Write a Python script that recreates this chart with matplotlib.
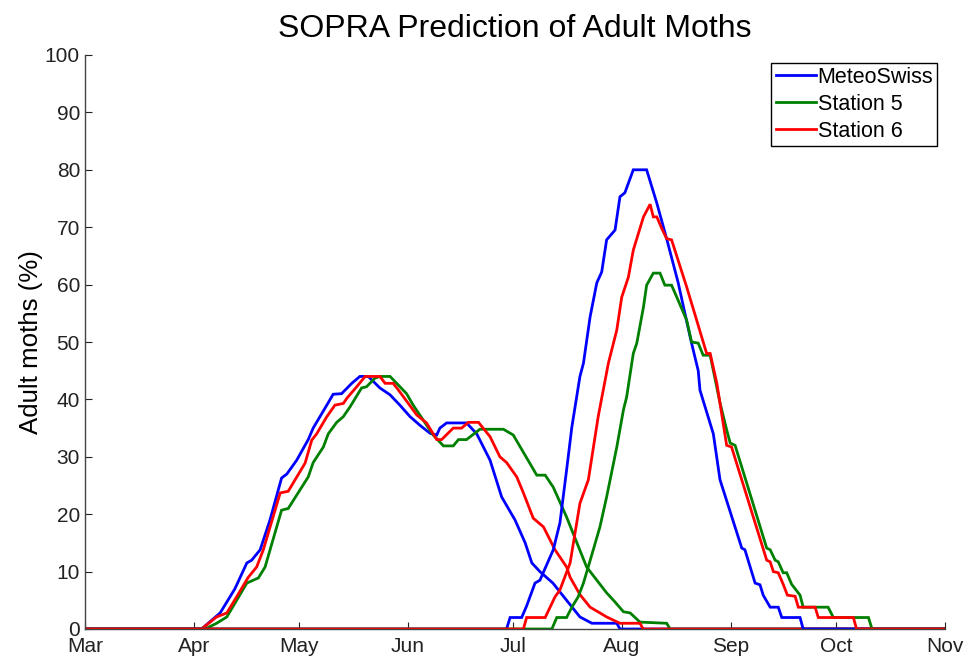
import matplotlib
matplotlib.use("Agg")
import matplotlib.pyplot as plt
import numpy as np

plt.rcParams['font.family'] = ['Liberation Sans', 'DejaVu Sans']

# Days since 1 March; months
month_labels = ['Mar', 'Apr', 'May', 'Jun', 'Jul', 'Aug', 'Sep', 'Oct', 'Nov']
month_days = [0, 31, 61, 92, 122, 153, 184, 214, 245]

# First generation
meteo_g1_day = [0, 33.2, 38.5, 42.7, 46.1, 47.5, 49.9, 52.7, 56.0, 57.5, 60.3, 63.6, 65.0, 68.4, 70.7, 73.1,
                76.0, 78.3, 80.7, 84.0, 86.9, 89.7, 92.6, 95.4, 98.3, 100.2, 101.1, 103.0, 108.7, 111.6,
                115.4, 118.7, 122.5, 125.4, 127.3, 129.6, 133.3, 137.2, 141.0, 144.4, 151.5, 152.4, 245]
meteo_g1_val = [0, 0, 2.8, 7, 11.5, 12, 13.8, 19, 26.3, 27, 29.4, 33, 35, 38.5, 40.9, 41,
                42.8, 44, 44, 42, 40.8, 39, 37, 35.5, 34.1, 33.8, 35, 35.9, 35.9, 34,
                29.4, 23, 19, 15, 11.5, 10, 8, 5, 2.1, 1, 1, 0, 0]

st5_g1_day = [0, 34.2, 37.5, 40.4, 46.1, 49.4, 51.3, 56.0, 57.9, 63.6, 65.0, 67.9, 69.3, 71.7, 73.6, 75.5,
              78.8, 80.2, 82.6, 84.0, 86.9, 88.8, 91.6, 93.5, 99.2, 102.1, 104.9, 106.4, 108.7, 112.5,
              119.2, 122.0, 128.7, 131.1, 133.4, 137.2, 142.9, 148.6, 151.0, 153.4, 155.3, 158.1, 165.7,
              166.7, 245]
st5_g1_val = [0, 0, 1, 2.1, 8, 8.9, 10.8, 20.7, 21, 26.5, 29, 31.7, 34, 36, 37, 38.7,
              42, 42.2, 43.7, 44, 44, 42.8, 41, 39, 33.8, 31.9, 31.9, 33, 33, 34.8,
              34.8, 33.8, 26.8, 26.8, 24.7, 19.5, 10.8, 6.3, 4.7, 3, 2.8, 1.2, 1,
              0, 0]

st6_g1_day = [0, 33.2, 37.5, 40.4, 43.2, 46.5, 48.9, 50.8, 55.6, 57.9, 62.7, 64.6, 66.0, 68.9, 71.2, 73.6,
              74.6, 77.4, 79.8, 84.0, 85.5, 87.8, 89.7, 94.5, 97.3, 100.2, 101.6, 104.9, 107.3, 109.2,
              112.1, 115.4, 118.2, 120.1, 123.0, 124.9, 127.7, 130.6, 133.9, 137.2, 138.2, 141.0, 143.9,
              146.7, 148.6, 152.4, 158.1, 159.0, 245]
st6_g1_val = [0, 0, 2.1, 2.8, 5.6, 9, 10.8, 13.8, 23.7, 24, 28.9, 32.9, 34, 37, 39, 39.3,
              40.2, 42.2, 44, 44, 42.8, 42.8, 41.3, 37.3, 35.9, 33, 33, 35, 35, 36,
              36, 33.5, 30, 29, 26.5, 23.7, 19.3, 17.8, 13.8, 10.8, 9, 6, 3.8,
              2.8, 2.1, 1, 1, 0, 0]

# Second generation
meteo_g2_day = [0, 120.1, 121.1, 124.4, 125.8, 128.2, 129.6, 133.4, 135.3, 137.2, 138.7, 141.0, 142.0, 143.9,
                145.8, 147.2, 148.6, 151.0, 152.4, 153.8, 156.2, 160.0, 162.9, 165.7, 169.0, 170.9, 172.8,
                174.7, 175.2, 179.0, 180.9, 187.1, 188.0, 190.9, 192.3, 193.2, 195.2, 197.5, 198.5, 203.7,
                204.6, 245]
meteo_g2_val = [0, 0, 2, 2, 4, 8, 8.5, 13.8, 18.5, 27.7, 35.2, 44, 46.3, 54.4,
                60.3, 62.2, 67.8, 69.5, 75.3, 76, 80, 80, 74.2, 68, 60.3, 55, 49.8,
                45, 41.6, 34, 26, 14.1, 13.8, 8, 7.7, 5.9, 3.8, 3.8, 2, 2,
                0, 0]

st5_g2_day = [0, 133.0, 134.4, 137.2, 138.7, 140.5, 142.0, 144.8, 146.7, 148.6, 151.5, 153.4, 154.3, 156.2,
              157.2, 159.1, 160.0, 161.9, 163.8, 165.2, 167.1, 168.6, 171.4, 172.8, 174.7, 176.1, 178.1,
              180.9, 182.8, 183.8, 185.2, 194.2, 195.2, 196.6, 197.5, 198.9, 199.9, 201.3, 203.7, 204.6,
              211.7, 213.2, 223.2, 224.2, 245]
st5_g2_val = [0, 0, 2, 2, 3.8, 5.6, 8, 13.8, 17.8, 23, 31.7, 38.2, 40.4, 48,
              49.8, 56.1, 59.9, 62, 62, 59.9, 59.9, 57.8, 53.8, 50, 49.8, 47.7, 47.7,
              39.4, 34.7, 32.4, 32, 14.1, 13.8, 12, 11.7, 9.8, 9.8, 7.8, 5.9, 3.8,
              3.8, 2, 2, 0, 0]

st6_g2_day = [0, 124.9, 125.8, 131.1, 132.5, 133.9, 135.3, 138.2, 141.0, 143.4, 146.2, 149.1, 151.5, 152.9,
              154.8, 156.2, 159.1, 161.0, 161.9, 162.9, 164.3, 165.7, 167.1, 171.4, 177.1, 178.1, 180.0,
              182.8, 184.2, 194.2, 195.2, 196.1, 197.5, 198.9, 200.1, 202.3, 203.2, 208.0, 208.9, 218.9,
              219.8, 245]
st6_g2_val = [0, 0, 2, 2, 3.8, 5.6, 6.8, 11.5, 21.9, 26, 37, 46.3, 52.1, 57.8,
              61.3, 66, 71.8, 74, 71.8, 71.8, 69.8, 68, 67.8, 59.6, 48, 48, 42.8,
              32, 31.7, 12, 11.7, 10, 9.8, 7.8, 5.9, 5.7, 3.8, 3.8, 2, 2,
              0, 0]

series_names = ['MeteoSwiss', 'Station 5', 'Station 6']
colors = ['#0000ff', '#008000', '#ff0000']

fig = plt.figure(figsize=(9.68, 6.61), dpi=100)
ax = fig.add_axes([85/968, 1 - 629/661, 860/968, 574/661])

lw = 2.0
g1 = [(meteo_g1_day, meteo_g1_val), (st5_g1_day, st5_g1_val), (st6_g1_day, st6_g1_val)]
g2 = [(meteo_g2_day, meteo_g2_val), (st5_g2_day, st5_g2_val), (st6_g2_day, st6_g2_val)]
handles = []
for (d, v), c, n in zip(g1, colors, series_names):
    h, = ax.plot(d, v, color=c, lw=lw, label=n, solid_joinstyle='miter')
    handles.append(h)
for (d, v), c in zip(g2, colors):
    ax.plot(d, v, color=c, lw=lw, solid_joinstyle='miter')

ax.set_xlim(0, 245)
ax.set_ylim(0, 100)
ax.set_xticks(month_days)
ax.set_xticklabels(month_labels)
ax.set_yticks(np.arange(0, 101, 10))
ax.tick_params(direction='in', length=5, labelsize=15, colors='#222222')
ax.tick_params(axis='y', pad=3.6)
ax.tick_params(axis='x', pad=6)
for s in ['top', 'right']:
    ax.spines[s].set_visible(False)
for s in ['left', 'bottom']:
    ax.spines[s].set_color('#444444')
    ax.spines[s].set_linewidth(1.0)
ax.set_ylabel('Adult moths (%)', fontsize=18.6, labelpad=1.5)
ax.set_title('SOPRA Prediction of Adult Moths', fontsize=23, pad=13)

leg = ax.legend(handles=handles, loc='upper right', fontsize=15.5, frameon=True, fancybox=False,
                edgecolor='black', framealpha=1, borderpad=0.2, handlelength=1.9,
                handletextpad=0.05, labelspacing=0.28, borderaxespad=0.35)
leg.get_frame().set_linewidth(1.0)

fig.savefig('out.png', dpi=100)
